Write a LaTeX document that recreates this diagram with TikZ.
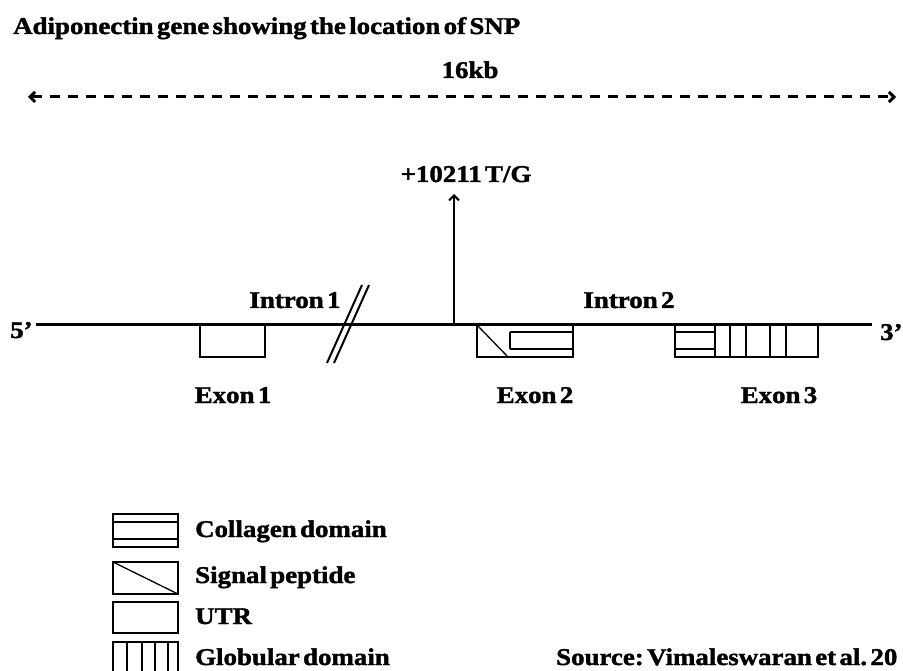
\documentclass[tikz,border=0pt]{standalone}
\usepackage{fontspec}
\setmainfont{Liberation Serif}[FakeStretch=1.12, WordSpace=0.5, FakeBold=1.6]
\usetikzlibrary{arrows.meta}
\frenchspacing
\tikzset{
  lbl/.style={font=\fontsize{24}{28}\selectfont\bfseries, inner sep=0pt},
  boxline/.style={line width=2pt, line join=miter},
  thinline/.style={line width=1.3pt},
  mainline/.style={line width=3pt},
}
\begin{document}
\begin{tikzpicture}[x=1pt,y=-1pt]
\useasboundingbox[fill=white] (0,0) rectangle (903,671);
% title
\node[lbl, anchor=base west] (title) at (13,34) {Adiponectin gene showing the location of SNP};
% 16 kb
\node[lbl, anchor=base] (kb) at (470,78) {16kb};
\coordinate (kbL) at (28,97);
\coordinate (kbR) at (896,97);
\draw[line width=3pt, dash pattern=on 10pt off 8pt, {Straight Barb[length=5pt,width=10pt]}-{Straight Barb[length=5pt,width=10pt]}] (kbL) -- (kbR);
% main line
\node[lbl, anchor=base west] (five) at (10,338) {5’};
\node[lbl, anchor=base west] (three) at (880,340) {3’};
\coordinate (mL) at (36,325);
\coordinate (mR) at (872,325);
\draw[mainline] (mL) -- (mR);
% SNP arrow
\coordinate (snp) at (454,325);
\node[lbl, anchor=base] (snplbl) at (466,182) {+10211 T/G};
\coordinate (snptip) at (454,194);
\draw[line width=2pt, -{Straight Barb[length=5pt,width=10pt]}] (snp) -- (snptip);
% break
\coordinate (b1a) at (327,363); \coordinate (b1b) at (362,285);
\coordinate (b2a) at (334,363); \coordinate (b2b) at (369,285);
\draw[boxline] (b1a) -- (b1b);
\draw[boxline] (b2a) -- (b2b);
% intron labels
\node[lbl, anchor=base] (in1) at (295,308) {Intron 1};
\node[lbl, anchor=base] (in2) at (629,308) {Intron 2};
% exon 1 (UTR)
\coordinate (e1a) at (200,325); \coordinate (e1b) at (265,357);
\draw[boxline] (e1a) rectangle (e1b);
% exon 2
\coordinate (e2a) at (477,325); \coordinate (e2b) at (573,357);
\draw[boxline] (e2a) rectangle (e2b);
\draw[thinline] (477,325) -- (508,357);
\draw[thinline] (510,332) -- (510,349);
\draw[thinline] (510,332) -- (573,332);
\draw[thinline] (510,349) -- (573,349);
% exon 3
\coordinate (e3a) at (675,325); \coordinate (e3b) at (818,357);
\draw[boxline] (e3a) rectangle (e3b);
\draw[thinline] (675,332) -- (715,332);
\draw[thinline] (675,349) -- (715,349);
\foreach \xx in {715,730,746,770,786} \draw[thinline] (\xx,325) -- (\xx,357);
% exon labels
\node[lbl, anchor=base] (ex1) at (233,403) {Exon 1};
\node[lbl, anchor=base] (ex2) at (535,403) {Exon 2};
\node[lbl, anchor=base] (ex3) at (779,403) {Exon 3};
% legend
\draw[boxline] (113,514) rectangle (178,547);
\draw[thinline] (113,522) -- (178,522);
\draw[thinline] (113,539) -- (178,539);
\node[lbl, anchor=base west] (lcol) at (195,537) {Collagen domain};
\draw[boxline] (113,562) rectangle (178,594);
\draw[thinline] (113,562) -- (178,594);
\node[lbl, anchor=base west] (lsig) at (195,583) {Signal peptide};
\draw[boxline] (113,602) rectangle (178,633);
\node[lbl, anchor=base west] (lutr) at (195,624) {UTR};
\draw[boxline] (113,682) -- (113,642) -- (178,642) -- (178,682);
\foreach \xx in {127,142,155,168} \draw[thinline] (\xx,642) -- (\xx,682);
\node[lbl, anchor=base west] (lglob) at (195,665) {Globular domain};
\node[lbl, anchor=base west] (src) at (556,665) {Source: Vimaleswaran et al. 20};
\end{tikzpicture}
\end{document}
